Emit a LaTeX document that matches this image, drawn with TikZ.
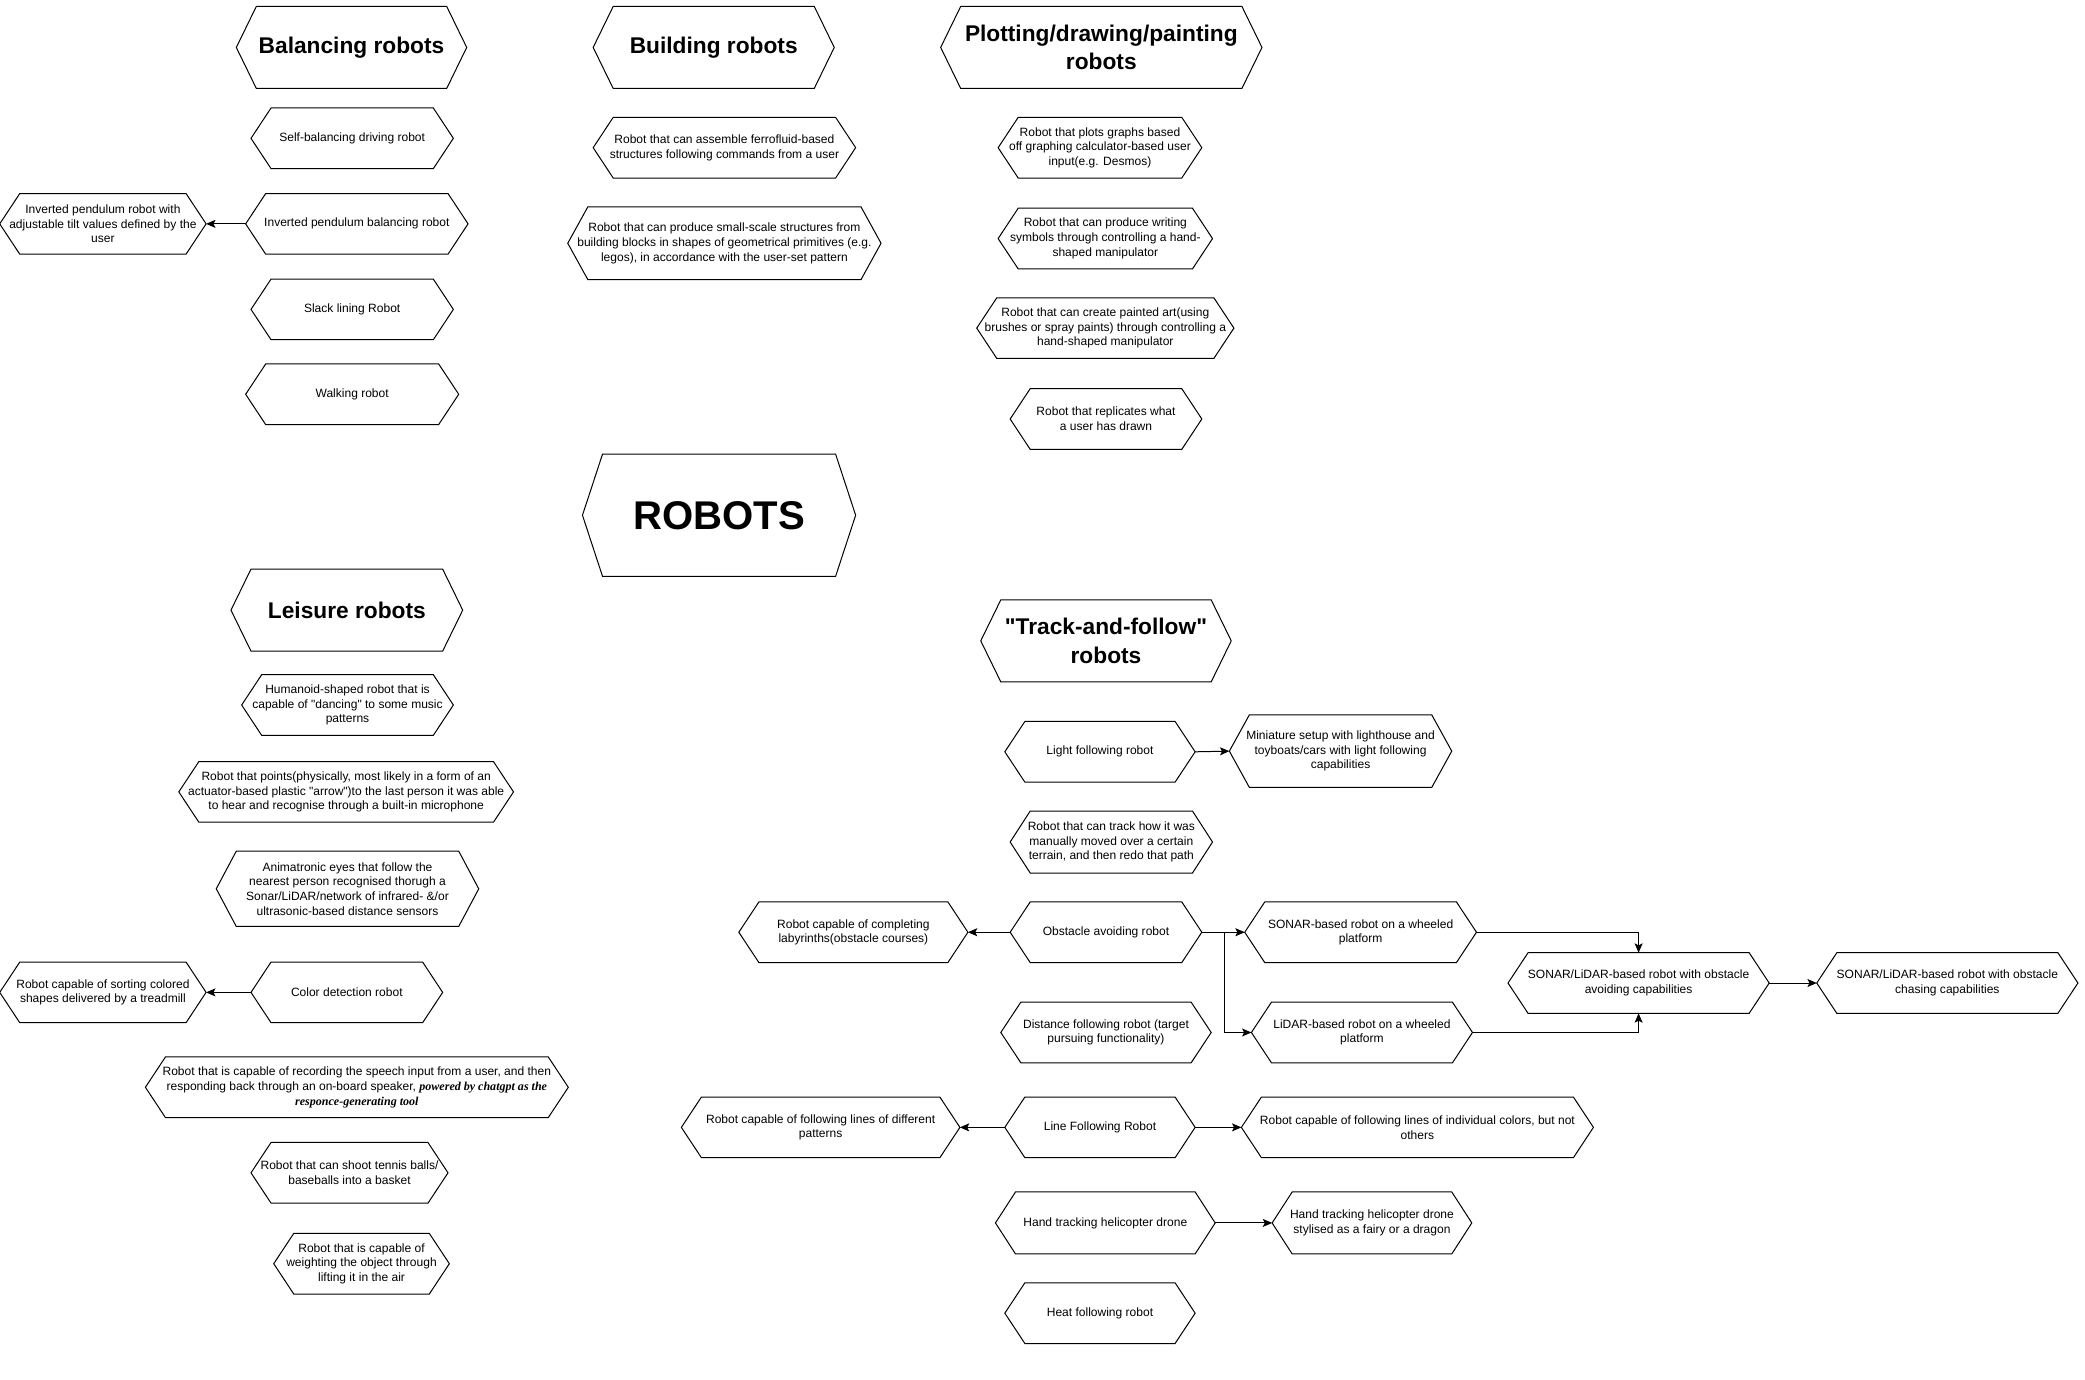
\documentclass[tikz,border=0pt]{standalone}
\usepackage{fontspec}
\setmainfont{Liberation Sans}
\newfontfamily\gptfont{Liberation Serif}
\usetikzlibrary{arrows.meta}

\tikzset{
  hex/.style={inner sep=0pt, align=center, append after command={\pgfextra{
      \draw[line width=0.75pt] (\tikzlastnode.west) -- ([xshift=15]\tikzlastnode.north west)
        -- ([xshift=-15]\tikzlastnode.north east) -- (\tikzlastnode.east)
        -- ([xshift=-15]\tikzlastnode.south east) -- ([xshift=15]\tikzlastnode.south west) -- cycle;}}},
  idea/.style={hex, font=\fontsize{9}{11}\selectfont},
  topic/.style={hex, minimum height=61, font=\fontsize{17}{21}\selectfont\bfseries},
  link/.style={-{Stealth[length=7,width=6,inset=1.5]}, line width=0.75pt},
}

\begin{document}
\begin{tikzpicture}[x=1pt, y=-1pt]
            \useasboundingbox (0,0) rectangle (1560,1032);

            % balancing
            \node[topic, minimum width=172] (bal) at (263,35.5) {Balancing robots};
            \node[idea, minimum width=151, minimum height=45] (selfbal) at (263.5,103.5) {Self-balancing driving robot};
            \node[idea, minimum width=166, minimum height=45] (ipb) at (267,167.5) {Inverted pendulum balancing robot};
            \node[idea, minimum width=154, minimum height=45] (ipuser) at (77,167.5) {Inverted pendulum robot with\\adjustable tilt values defined by the\\user};
            \node[idea, minimum width=151, minimum height=45] (slack) at (263.5,231.5) {Slack lining Robot};
            \node[idea, minimum width=159, minimum height=45] (walk) at (263.5,295) {Walking robot};

            % building
            \node[topic, minimum width=180] (build) at (534,35.5) {Building robots};
            \node[idea, minimum width=196, minimum height=45] (ferro) at (542,110.5) {Robot that can assemble ferrofluid-based\\structures following commands from a user};
            \node[idea, minimum width=234, minimum height=54] (blocks) at (542,182) {Robot that can produce small-scale structures from\\building blocks in shapes of geometrical primitives (e.g.\\legos), in accordance with the user-set pattern};

            % plotting
            \node[topic, minimum width=240] (plot) at (824,35.5) {Plotting/drawing/painting\\robots};
            \node[idea, minimum width=152, minimum height=45] (graphs) at (823,110.5) {Robot that plots graphs based\\off graphing calculator-based user\\input(e.g. Desmos)};
            \node[idea, minimum width=160, minimum height=45] (writing) at (827,178.5) {Robot that can produce writing\\symbols through controlling a hand-\\shaped manipulator};
            \node[idea, minimum width=192, minimum height=45] (painted) at (827,245.5) {Robot that can create painted art(using\\brushes or spray paints) through controlling a\\hand-shaped manipulator};
            \node[idea, minimum width=143, minimum height=45] (replica) at (827.5,313.5) {Robot that replicates what\\a user has drawn};

            \node[hex, minimum width=204, minimum height=91, font=\fontsize{30}{36}\selectfont\bfseries] (robots) at (538,385.5) {ROBOTS};

            % leisure
            \node[topic, minimum width=173] (leisure) at (259.5,456.5) {Leisure robots};
            \node[idea, minimum width=158, minimum height=45] (dance) at (260,527.5) {Humanoid-shaped robot that is\\capable of \textquotedbl dancing\textquotedbl{} to some music\\patterns};
            \node[idea, minimum width=250, minimum height=45] (points) at (259,592.5) {Robot that points(physically, most likely in a form of an\\actuator-based plastic \textquotedbl arrow\textquotedbl)to the last person it was able\\to hear and recognise through a built-in microphone};
            \node[idea, minimum width=196, minimum height=56] (eyes) at (260,665) {Animatronic eyes that follow the\\nearest person recognised thorugh a\\Sonar/LiDAR/network of infrared- \&/or\\ultrasonic-based distance sensors};
            \node[idea, minimum width=143, minimum height=45] (color) at (259.5,742.5) {Color detection robot};
            \node[idea, minimum width=154, minimum height=45] (sorting) at (77,742.5) {Robot capable of sorting colored\\shapes delivered by a treadmill};
            \node[idea, minimum width=316, minimum height=45] (speech) at (267,813.5) {Robot that is capable of recording the speech input from a user, and then\\responding back through an on-board speaker, {\gptfont\bfseries\itshape powered by chatgpt as the}\\{\gptfont\bfseries\itshape responce-generating tool}};
            \node[idea, minimum width=147, minimum height=45] (tennis) at (261.5,877.5) {Robot that can shoot tennis balls/\\baseballs into a basket};
            \node[idea, minimum width=131, minimum height=45] (weight) at (270.5,945.5) {Robot that is capable of\\weighting the object through\\lifting it in the air};

            % track-and-follow
            \node[topic, minimum width=187] (track) at (827.5,479.5) {\textquotedbl Track-and-follow\textquotedbl\\robots};
            \node[idea, minimum width=142, minimum height=45] (light) at (823,562.5) {Light following robot};
            \node[idea, minimum width=166, minimum height=54] (mini) at (1003,562) {Miniature setup with lighthouse and\\toyboats/cars with light following\\capabilities};
            \node[idea, minimum width=151, minimum height=46] (redo) at (831.5,630) {Robot that can track how it was\\manually moved over a certain\\terrain, and then redo that path};
            \node[idea, minimum width=143, minimum height=45] (obst) at (827.5,697.5) {Obstacle avoiding robot};
            \node[idea, minimum width=171, minimum height=45] (laby) at (638.5,697.5) {Robot capable of completing\\labyrinths(obstacle courses)};
            \node[idea, minimum width=173, minimum height=45] (sonar) at (1018,697.5) {SONAR-based robot on a wheeled\\platform};
            \node[idea, minimum width=165, minimum height=45] (lidar) at (1019,772.5) {LiDAR-based robot on a wheeled\\platform};
            \node[idea, minimum width=157, minimum height=45] (dist) at (827.5,772.5) {Distance following robot (target\\pursuing functionality)};
            \node[idea, minimum width=195, minimum height=45] (avoid) at (1226,735.5) {SONAR/LiDAR-based robot with obstacle\\avoiding capabilities};
            \node[idea, minimum width=195, minimum height=45] (chase) at (1457,735.5) {SONAR/LiDAR-based robot with obstacle\\chasing capabilities};
            \node[idea, minimum width=142, minimum height=45] (line) at (823,843.5) {Line Following Robot};
            \node[idea, minimum width=208, minimum height=45] (patt) at (614,843.5) {Robot capable of following lines of different\\patterns};
            \node[idea, minimum width=263, minimum height=45] (colors) at (1060.5,843.5) {Robot capable of following lines of individual colors, but not\\others};
            \node[idea, minimum width=164, minimum height=46] (hand) at (827,915) {Hand tracking helicopter drone};
            \node[idea, minimum width=149, minimum height=46] (fairy) at (1026.5,915) {Hand tracking helicopter drone\\stylised as a fairy or a dragon};
            \node[idea, minimum width=142, minimum height=45] (heat) at (823,982.5) {Heat following robot};

            \draw[link] (ipb.west) -- (ipuser.east);
            \draw[link] (color.west) -- (sorting.east);
            \draw[link] (light.east) -- (mini.west);
            \draw[link] (obst.west) -- (laby.east);
            \draw[link] (obst.east) -- (sonar.west);
            \draw[link] (obst.east) -- ([xshift=17]obst.east) |- (lidar.west);
            \draw[link] (sonar.east) -| (avoid.north);
            \draw[link] (lidar.east) -| (avoid.south);
            \draw[link] (avoid.east) -- (chase.west);
            \draw[link] (line.west) -- (patt.east);
            \draw[link] (line.east) -- (colors.west);
            \draw[link] (hand.east) -- (fairy.west);
\end{tikzpicture}
\end{document}
